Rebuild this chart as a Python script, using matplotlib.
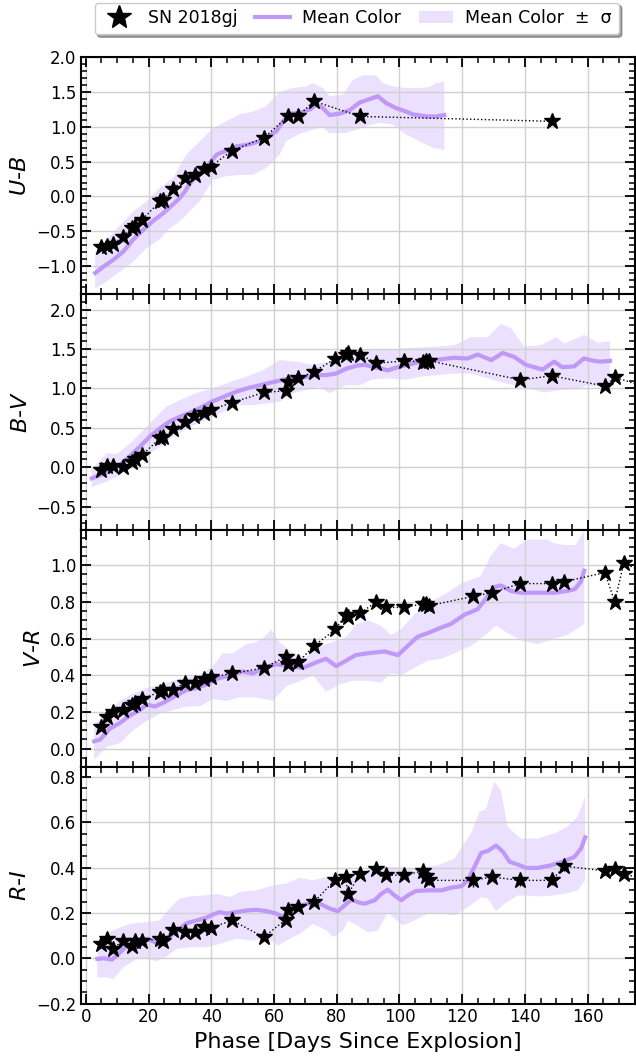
import numpy as np
import matplotlib
matplotlib.use("Agg")
import matplotlib.pyplot as plt
from matplotlib.lines import Line2D
from matplotlib.patches import Patch
from matplotlib.ticker import MultipleLocator

# ---- SN 2018gj colours ----
ub_phase = [4.7, 6.7, 8.6, 11.8, 14.7, 15.7, 17.8, 23.7, 24.7, 27.9, 31.6, 34.8, 37.7, 39.8,
            46.7, 56.7, 64.5, 67.7, 72.6, 87.5, 148.6]
ub_col = [-0.72, -0.71, -0.69, -0.58, -0.45, -0.42, -0.34, -0.07, -0.05, 0.11, 0.26, 0.31, 0.40, 0.43,
          0.66, 0.84, 1.15, 1.15, 1.37, 1.15, 1.08]

bv_phase = [4.8, 6.7, 8.6, 11.8, 14.7, 15.7, 17.8, 23.7, 24.7, 27.9, 31.6, 34.6, 37.7, 39.8,
            46.7, 56.7, 63.7, 64.6, 67.7, 72.7, 79.6, 82.8, 83.6, 87.5, 92.6, 101.6, 107.6, 108.5,
            109.5, 138.5, 148.6, 165.5, 168.7, 178.5]
bv_col = [-0.03, 0.02, 0.02, 0.01, 0.07, 0.10, 0.15, 0.37, 0.38, 0.48, 0.57, 0.65, 0.69, 0.73,
          0.82, 0.95, 0.97, 1.08, 1.13, 1.21, 1.38, 1.43, 1.45, 1.43, 1.32, 1.35, 1.34, 1.35,
          1.35, 1.11, 1.16, 1.03, 1.14, 1.02]

vr_phase = [4.8, 6.9, 8.6, 11.8, 14.7, 15.7, 17.8, 23.7, 24.7, 27.9, 31.6, 34.8, 37.7, 39.8,
            46.7, 56.7, 63.7, 64.6, 67.7, 72.7, 79.6, 82.8, 83.6, 87.5, 92.6, 95.6, 101.6, 107.6,
            108.5, 109.5, 123.5, 129.4, 138.5, 148.6, 152.5, 165.5, 168.6, 171.5, 178.5]
vr_col = [0.12, 0.17, 0.20, 0.21, 0.24, 0.25, 0.27, 0.31, 0.32, 0.32, 0.36, 0.36, 0.38, 0.39,
          0.41, 0.44, 0.50, 0.46, 0.47, 0.56, 0.65, 0.73, 0.72, 0.74, 0.80, 0.77, 0.77, 0.79,
          0.79, 0.78, 0.83, 0.85, 0.90, 0.90, 0.91, 0.96, 0.80, 1.01, 0.96]

ri_phase = vr_phase
ri_col = [0.064, 0.086, 0.041, 0.078, 0.053, 0.078, 0.078, 0.086, 0.075, 0.126, 0.118, 0.118, 0.137, 0.135,
          0.167, 0.093, 0.170, 0.211, 0.226, 0.248, 0.347, 0.359, 0.285, 0.372, 0.396, 0.367, 0.367, 0.386,
          0.362, 0.344, 0.344, 0.359, 0.344, 0.344, 0.407, 0.386, 0.396, 0.374, 0.345]
ri_err = [0.01, 0.01, 0.01, 0.01, 0.01, 0.01, 0.01, 0.01, 0.01, 0.01, 0.01, 0.01, 0.01, 0.01,
          0.01, 0.01, 0.015, 0.015, 0.01, 0.01, 0.01, 0.01, 0.02, 0.015, 0.01, 0.01, 0.01, 0.015,
          0.03, 0.02, 0.03, 0.015, 0.025, 0.02, 0.02, 0.02, 0.015, 0.015, 0.015]

# ---- mean colour curves of the comparison sample ----
ub_mphase = [3.0, 5.6, 8.8, 12.0, 15.1, 18.3, 21.5, 24.7, 27.9, 30.0, 31.6, 33.2, 36.3, 39.5, 41.7,
             44.8, 48.0, 51.2, 54.4, 57.6, 60.8, 62.9, 65.0, 68.2, 71.4, 73.5, 75.6, 77.7, 80.9, 84.1,
             87.3, 90.5, 93.1, 95.8, 98.9, 102.1, 104.2, 108.5, 111.7, 114.3]
ub_mean = [-1.10, -1.01, -0.91, -0.79, -0.62, -0.48, -0.35, -0.24, -0.11, -0.02, 0.07, 0.19, 0.34, 0.48, 0.60,
           0.66, 0.72, 0.74, 0.78, 0.84, 0.94, 1.08, 1.19, 1.20, 1.25, 1.32, 1.27, 1.17, 1.19, 1.24,
           1.35, 1.40, 1.44, 1.34, 1.27, 1.22, 1.18, 1.15, 1.15, 1.17]
ub_up_phase = [3.0, 6.7, 11.0, 15.1, 19.4, 23.5, 27.8, 32.0, 36.3, 40.5, 44.8, 49.0, 53.3, 57.5, 61.8,
               66.0, 70.3, 72.4, 75.5, 77.7, 81.9, 85.1, 88.2, 92.6, 94.7, 97.9, 102.1, 106.4, 109.5,
               111.7, 114.3]
ub_up = [-0.79, -0.62, -0.41, -0.22, -0.07, 0.12, 0.26, 0.60, 0.79, 0.98, 1.08, 1.18, 1.22, 1.30, 1.50,
         1.56, 1.58, 1.63, 1.56, 1.44, 1.46, 1.67, 1.74, 1.74, 1.63, 1.58, 1.56, 1.56, 1.57,
         1.63, 1.65]
ub_lo_phase = [3.0, 6.7, 11.0, 15.1, 19.4, 23.5, 26.7, 29.9, 33.0, 36.3, 40.5, 44.8, 49.0, 53.3, 57.5,
               61.8, 63.9, 68.2, 72.4, 75.6, 77.7, 83.0, 86.2, 89.4, 93.6, 97.9, 102.1, 106.4, 110.6, 114.3]
ub_lo = [-1.32, -1.22, -1.08, -0.94, -0.74, -0.62, -0.46, -0.36, -0.22, -0.07, 0.24, 0.29, 0.31, 0.31, 0.41,
         0.60, 0.80, 0.90, 0.96, 1.00, 0.91, 0.91, 0.96, 1.01, 1.06, 1.03, 0.89, 0.79, 0.70, 0.67]

bv_mphase = [1.9, 4.5, 7.7, 10.9, 14.0, 17.2, 20.4, 23.5, 26.7, 29.9, 33.1, 36.3, 40.0, 43.7, 48.0,
             52.2, 56.5, 60.7, 65.0, 69.2, 73.4, 76.6, 79.8, 83.0, 86.5, 88.9, 92.1, 96.3, 99.5, 103.7,
             106.9, 111.1, 115.4, 117.5, 121.7, 124.9, 129.3, 132.9, 136.6, 140.3, 145.6, 149.3, 151.9,
             155.7, 158.8, 162.0, 164.2, 167.1]
bv_mean = [-0.14, -0.10, -0.05, 0.03, 0.14, 0.26, 0.39, 0.49, 0.58, 0.64, 0.69, 0.75, 0.83, 0.89, 0.96,
           1.01, 1.05, 1.09, 1.13, 1.14, 1.17, 1.17, 1.19, 1.25, 1.29, 1.30, 1.27, 1.23, 1.27, 1.31,
           1.34, 1.36, 1.38, 1.39, 1.38, 1.43, 1.36, 1.45, 1.40, 1.30, 1.24, 1.34, 1.27,
           1.28, 1.38, 1.35, 1.34, 1.35]
bv_up_phase = [1.9, 6.7, 9.9, 14.0, 19.3, 25.7, 29.9, 35.2, 40.6, 45.9, 51.2, 56.5, 61.8, 67.1, 72.4,
               77.7, 83.0, 87.3, 91.0, 96.3, 101.6, 106.9, 112.2, 117.5, 122.8, 128.1, 132.4, 135.6,
               139.8, 145.1, 149.9, 152.6, 158.9, 163.2, 167.1]
bv_up = [-0.03, 0.18, 0.17, 0.30, 0.51, 0.77, 0.85, 0.94, 1.00, 1.08, 1.15, 1.23, 1.36, 1.34, 1.30,
         1.34, 1.44, 1.49, 1.49, 1.49, 1.51, 1.52, 1.53, 1.55, 1.65, 1.65, 1.82, 1.76,
         1.53, 1.55, 1.65, 1.57, 1.68, 1.58, 1.60]
bv_lo_phase = [1.9, 6.7, 10.9, 15.1, 19.3, 23.5, 27.8, 33.1, 37.3, 42.6, 47.9, 53.3, 57.5, 61.8, 66.0,
               70.3, 74.5, 77.7, 79.8, 83.0, 87.3, 91.0, 96.3, 101.6, 106.9, 112.2, 117.5, 122.8, 128.1,
               133.4, 138.7, 143.0, 146.1, 151.5, 156.8, 159.9, 164.2, 167.1]
bv_lo = [-0.25, -0.18, -0.10, 0.03, 0.14, 0.26, 0.39, 0.51, 0.58, 0.68, 0.79, 0.79, 0.81, 0.83, 0.94,
         0.98, 1.02, 0.94, 0.98, 1.04, 1.04, 1.11, 1.13, 1.11, 1.15, 1.17, 1.19, 1.19, 1.13,
         1.07, 1.02, 0.98, 0.95, 0.98, 0.99, 1.04, 1.02, 1.02]

vr_mphase = [2.7, 4.6, 7.7, 10.9, 14.0, 17.2, 19.4, 22.0, 24.7, 28.9, 32.1, 35.3, 38.5, 41.6, 45.9,
             50.1, 53.3, 56.5, 60.7, 65.0, 69.2, 73.4, 76.6, 79.8, 83.0, 86.0, 89.9, 95.2, 99.5, 102.6,
             105.8, 109.0, 113.3, 116.4, 120.7, 124.9, 128.1, 130.2, 132.3, 135.5, 138.7, 144.0, 149.3,
             153.6, 155.9, 157.8, 158.9]
vr_mean = [0.04, 0.05, 0.11, 0.14, 0.18, 0.21, 0.24, 0.23, 0.25, 0.29, 0.32, 0.33, 0.35, 0.38, 0.40,
           0.42, 0.41, 0.44, 0.46, 0.45, 0.44, 0.47, 0.49, 0.45, 0.48, 0.51, 0.52, 0.53, 0.51, 0.56,
           0.61, 0.63, 0.66, 0.68, 0.73, 0.76, 0.83, 0.88, 0.89, 0.86, 0.85, 0.85, 0.85,
           0.86, 0.87, 0.91, 0.97]
vr_up_phase = [2.7, 6.7, 10.9, 15.1, 19.4, 23.5, 27.8, 32.0, 36.3, 40.5, 43.7, 46.9, 51.2, 54.3, 57.0,
               59.1, 61.8, 66.0, 70.3, 74.5, 78.7, 83.0, 86.5, 89.9, 94.1, 97.3, 100.5, 104.7, 110.0,
               115.3, 119.6, 125.9, 129.1, 132.3, 136.5, 140.8, 147.1, 149.3, 152.5, 156.2, 158.9]
vr_up = [0.13, 0.20, 0.26, 0.30, 0.33, 0.35, 0.37, 0.39, 0.40, 0.45, 0.52, 0.52, 0.57, 0.58, 0.61,
         0.65, 0.58, 0.52, 0.50, 0.56, 0.58, 0.61, 0.68, 0.70, 0.67, 0.62, 0.65, 0.73, 0.80,
         0.85, 0.90, 0.94, 1.05, 1.12, 1.09, 1.14, 1.14, 1.12, 1.11, 1.11, 1.19]
vr_lo_phase = [2.7, 6.7, 10.9, 15.1, 19.4, 23.5, 27.8, 32.0, 36.3, 40.5, 44.8, 49.0, 53.3, 57.5, 59.6,
               63.9, 67.1, 72.4, 76.6, 80.9, 85.1, 89.9, 94.1, 97.3, 100.5, 103.7, 109.0, 113.3, 117.5,
               122.8, 128.1, 130.8, 134.5, 138.7, 144.0, 149.3, 153.6, 158.9]
vr_lo = [-0.06, 0.01, 0.03, 0.10, 0.15, 0.19, 0.21, 0.23, 0.23, 0.27, 0.26, 0.28, 0.28, 0.27, 0.26,
         0.34, 0.36, 0.40, 0.31, 0.35, 0.37, 0.37, 0.36, 0.41, 0.40, 0.43, 0.48, 0.49, 0.52,
         0.56, 0.63, 0.67, 0.63, 0.59, 0.57, 0.60, 0.62, 0.68]

ri_mphase = [3.7, 5.6, 8.3, 9.9, 12.0, 14.1, 16.8, 19.4, 21.5, 23.1, 25.8, 29.0, 32.2, 35.3, 38.5,
             40.6, 42.8, 44.9, 48.1, 51.2, 54.4, 57.6, 60.8, 62.9, 65.0, 68.2, 71.4, 74.6, 77.8, 80.4,
             83.1, 84.7, 87.3, 88.9, 92.1, 94.2, 96.3, 98.4, 100.6, 102.7, 105.3, 109.0, 113.3, 116.5,
             119.7, 121.8, 123.9, 126.1, 128.2, 130.8, 133.0, 135.1, 137.7, 140.4, 144.1, 148.4, 152.6,
             155.8, 157.9, 159.2]
ri_mean = [-0.003, 0.0, -0.006, 0.012, 0.041, 0.064, 0.078, 0.086, 0.075, 0.064, 0.086, 0.12, 0.155, 0.167, 0.179,
           0.194, 0.204, 0.197, 0.204, 0.211, 0.214, 0.208, 0.197, 0.182, 0.211, 0.229, 0.244, 0.241, 0.219, 0.208,
           0.241, 0.259, 0.245, 0.241, 0.256, 0.285, 0.303, 0.278, 0.256, 0.278, 0.297, 0.30, 0.30, 0.312,
           0.318, 0.344, 0.404, 0.466, 0.474, 0.498, 0.470, 0.426, 0.414, 0.399, 0.399, 0.411, 0.429,
           0.448, 0.485, 0.534]
ri_up_phase = [3.7, 6.7, 9.9, 14.1, 19.4, 23.5, 26.7, 29.9, 33.1, 38.5, 41.6, 45.9, 49.1, 54.4, 59.7,
               63.9, 68.2, 72.4, 76.7, 80.9, 85.4, 92.1, 98.4, 104.8, 112.2, 117.5, 122.8, 125.5, 127.6,
               130.2, 132.3, 134.5, 138.7, 144.0, 149.3, 153.6, 156.8, 159.2]
ri_up = [0.041, 0.108, 0.13, 0.152, 0.160, 0.167, 0.219, 0.263, 0.273, 0.278, 0.285, 0.270, 0.293, 0.300, 0.322,
         0.330, 0.355, 0.344, 0.359, 0.347, 0.359, 0.404, 0.404, 0.396, 0.411, 0.44, 0.551, 0.647, 0.658,
         0.78, 0.743, 0.58, 0.529, 0.529, 0.551, 0.581, 0.625, 0.714]
ri_lo_phase = [3.7, 6.7, 8.8, 12.0, 16.2, 19.4, 22.6, 25.8, 29.0, 33.1, 38.5, 42.8, 48.1, 53.3, 57.6,
               61.3, 63.9, 68.2, 72.4, 76.7, 78.8, 82.0, 83.6, 86.5, 89.9, 93.1, 96.3, 98.4, 101.1, 104.8,
               109.0, 113.3, 117.5, 121.8, 126.1, 128.2, 130.8, 133.5, 137.7, 144.1, 149.3, 153.6, 156.8, 159.2]
ri_lo = [-0.084, -0.084, -0.092, -0.04, -0.003, -0.003, -0.013, 0.007, 0.041, 0.049, 0.049, 0.064, 0.086, 0.078, 0.093,
         0.056, 0.078, 0.108, 0.152, 0.123, 0.093, 0.123, 0.167, 0.145, 0.115, 0.123, 0.203, 0.174, 0.145, 0.167,
         0.197, 0.197, 0.189, 0.226, 0.27, 0.263, 0.208, 0.241, 0.278, 0.273, 0.278, 0.288, 0.30, 0.344]

line_col = '#bf98f8'
band_col = '#ebe0fd'

panels = [
    (r'$U$-$B$', ub_phase, ub_col, None, ub_mphase, ub_mean, ub_up_phase, ub_up, ub_lo_phase, ub_lo,
     (-1.4, 2.0), 0.5, 0.1),
    (r'$B$-$V$', bv_phase, bv_col, None, bv_mphase, bv_mean, bv_up_phase, bv_up, bv_lo_phase, bv_lo,
     (-0.8, 2.2), 0.5, 0.1),
    (r'$V$-$R$', vr_phase, vr_col, None, vr_mphase, vr_mean, vr_up_phase, vr_up, vr_lo_phase, vr_lo,
     (-0.1, 1.19), 0.2, 0.05),
    (r'$R$-$I$', ri_phase, ri_col, ri_err, ri_mphase, ri_mean, ri_up_phase, ri_up, ri_lo_phase, ri_lo,
     (-0.2, 0.845), 0.2, 0.05),
]

fig, axes = plt.subplots(4, 1, figsize=(6.36, 10.57), dpi=100, sharex=True)
fig.subplots_adjust(left=0.1275, right=0.998, top=0.9458, bottom=0.0506, hspace=0)

for ax, (lab, ph, col, err, mph, mean, uph, up, lph, lo, ylim, major, minor) in zip(axes, panels):
    # sigma band as a closed polygon: upper edge forward, lower edge back
    ax.fill(np.concatenate([uph, lph[::-1]]), np.concatenate([up, lo[::-1]]),
            color=band_col, lw=0, zorder=1)
    ax.plot(mph, mean, color=line_col, lw=3, zorder=2)
    ax.plot(ph, col, 'k:', lw=1, zorder=3)
    if err is not None:
        ax.errorbar(ph, col, yerr=err, fmt='none', ecolor='k', elinewidth=1, zorder=3)
    ax.plot(ph, col, '*', color='k', ms=12, zorder=4)

    ax.set_ylim(*ylim)
    ax.set_xlim(-1.5, 175)
    ax.set_ylabel(lab, fontsize=16)
    ax.yaxis.set_major_locator(MultipleLocator(major))
    ax.yaxis.set_minor_locator(MultipleLocator(minor))
    ax.xaxis.set_major_locator(MultipleLocator(20))
    ax.xaxis.set_minor_locator(MultipleLocator(5))
    ax.grid(True, which='major', color='0.82', lw=1)
    ax.tick_params(which='both', direction='in', top=True, right=True, labelsize=12)
    ax.tick_params(which='major', length=7, width=1.3)
    ax.tick_params(which='minor', length=4, width=1.1)
    for sp in ax.spines.values():
        sp.set_linewidth(1.5)

axes[-1].set_xlabel('Phase [Days Since Explosion]', fontsize=16)

handles = [Line2D([], [], marker='*', color='k', ls='none', ms=12),
           Line2D([], [], color=line_col, lw=3),
           Patch(facecolor=band_col, edgecolor='none')]
labels = ['SN 2018gj', 'Mean Color', 'Mean Color  ±  σ']
fig.legend(handles, labels, loc='center', bbox_to_anchor=(0.561, 0.9825), ncol=3,
           fontsize=12.5, markerscale=1.5, columnspacing=1.0, handletextpad=0.7,
           shadow=True, fancybox=True)

fig.savefig('out.png', dpi=100)
